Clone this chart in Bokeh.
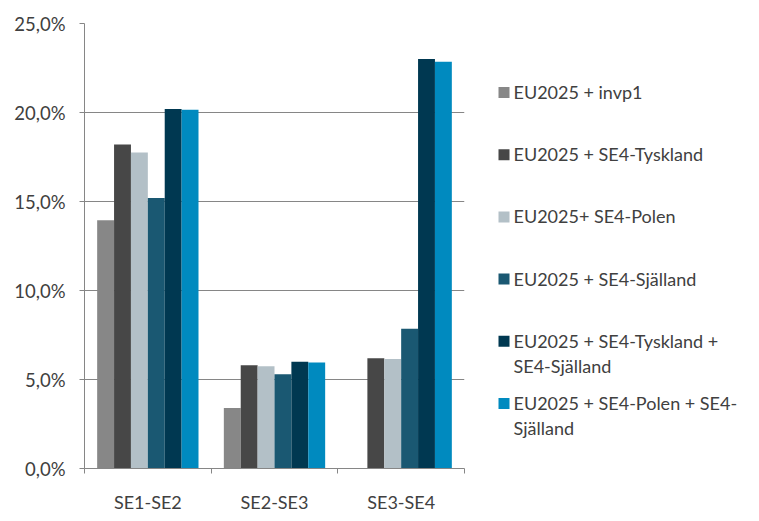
from bokeh.plotting import figure
from bokeh.layouts import row
from bokeh.models import FixedTicker, ColumnDataSource, Range1d
from bokeh.embed import file_html
from bokeh.resources import INLINE
from bokeh.core.properties import value

categories = ["SE1-SE2", "SE2-SE3", "SE3-SE4"]
series_names = [
    "EU2025 +  invp1",
    "EU2025 + SE4-Tyskland",
    "EU2025+ SE4-Polen",
    "EU2025 + SE4-Själland",
    "EU2025 + SE4-Tyskland +\nSE4-Själland",
    "EU2025 + SE4-Polen + SE4-\nSjälland",
]
invp1 = [13.95, 3.4, 0.0]
se4_tyskland = [18.2, 5.8, 6.2]
se4_polen = [17.75, 5.75, 6.15]
se4_sjalland = [15.2, 5.3, 7.85]
se4_tyskland_sjalland = [20.2, 6.0, 23.0]
se4_polen_sjalland = [20.15, 5.95, 22.85]
series_values = [invp1, se4_tyskland, se4_polen, se4_sjalland,
                 se4_tyskland_sjalland, se4_polen_sjalland]
colors = ["#878787", "#474747", "#b3c0c7", "#1a5872", "#003851", "#008abf"]
y_ticks = [0, 5, 10, 15, 20, 25]
y_tick_labels = ["0,0%", "5,0%", "10,0%", "15,0%", "20,0%", "25,0%"]

FONT = "Lato"
TEXT_COLOR = "#404040"
LINE_COLOR = "#868686"
TOP, BOTTOM, HEIGHT = 23, 53, 521

p = figure(width=480, height=HEIGHT, output_backend="svg", toolbar_location=None,
           x_range=Range1d(0, len(categories)), y_range=Range1d(0, 25),
           min_border_left=84, min_border_right=16, min_border_top=TOP,
           min_border_bottom=BOTTOM)
p.outline_line_color = None
p.background_fill_color = "white"
p.border_fill_color = "white"

group_width = 0.8
n = len(series_values)
bar_w = group_width / n
for j, (vals, col) in enumerate(zip(series_values, colors)):
    xs = [i + 0.5 + (j - (n - 1) / 2) * bar_w for i in range(len(categories))]
    src = ColumnDataSource(dict(x=xs, top=vals))
    p.vbar(x="x", top="top", width=bar_w, bottom=0, source=src,
           fill_color=col, line_color=None)

# y axis
p.yaxis.ticker = FixedTicker(ticks=y_ticks, minor_ticks=[])
p.yaxis.major_label_overrides = {t: l for t, l in zip(y_ticks, y_tick_labels)}
p.yaxis.axis_line_color = LINE_COLOR
p.yaxis.major_tick_line_color = LINE_COLOR
p.yaxis.major_tick_in = 0
p.yaxis.major_tick_out = 5
p.yaxis.minor_tick_line_color = None
p.yaxis.major_label_standoff = 14
p.yaxis.major_label_text_font = FONT
p.yaxis.major_label_text_font_size = "18.5px"
p.yaxis.major_label_text_color = TEXT_COLOR

# x axis
centers = [i + 0.5 for i in range(len(categories))]
bounds = list(range(len(categories) + 1))
p.xaxis.ticker = FixedTicker(ticks=centers, minor_ticks=bounds)
p.xaxis.major_label_overrides = {c: l for c, l in zip(centers, categories)}
p.xaxis.axis_line_color = LINE_COLOR
p.xaxis.major_tick_line_color = None
p.xaxis.major_tick_in = 0
p.xaxis.major_tick_out = 0
p.xaxis.minor_tick_line_color = LINE_COLOR
p.xaxis.minor_tick_in = 0
p.xaxis.minor_tick_out = 5
p.xaxis.major_label_standoff = 17
p.xaxis.major_label_text_font = FONT
p.xaxis.major_label_text_font_size = "18px"
p.xaxis.major_label_text_color = TEXT_COLOR

p.xgrid.grid_line_color = None
p.ygrid.grid_line_color = LINE_COLOR
p.ygrid.ticker = FixedTicker(ticks=y_ticks, minor_ticks=[])

# legend panel: coordinates equal to window pixels (y pointing down)
LW = 279
lg = figure(width=LW, height=HEIGHT, output_backend="svg", toolbar_location=None,
            x_range=Range1d(0, LW), y_range=Range1d(HEIGHT - BOTTOM, TOP),
            min_border_left=0, min_border_right=0, min_border_top=TOP,
            min_border_bottom=BOTTOM, x_axis_type=None, y_axis_type=None)
lg.outline_line_color = None
lg.grid.visible = False
lg.background_fill_color = "white"
lg.border_fill_color = "white"

first_y, pitch = 92, 62.2
sq_x, sq_size, txt_x = 23.5, 11, 33
ys = [first_y + k * pitch for k in range(len(series_names))]
lsrc = ColumnDataSource(dict(
    sx=[sq_x] * len(series_names), y=ys, color=colors,
    tx=[txt_x] * len(series_names), ty=[v - 11.5 for v in ys],
    label=series_names))
lg.rect(x="sx", y="y", width=sq_size, height=sq_size, source=lsrc,
        fill_color="color", line_color=None)
lg.text(x="tx", y="ty", text="label", source=lsrc, text_font=value(FONT),
        text_font_size="18px", text_color=TEXT_COLOR, text_baseline="top",
        text_align="left", text_line_height=1.13)

layout = row(p, lg)
open("out.html", "w").write(file_html(layout, INLINE))
